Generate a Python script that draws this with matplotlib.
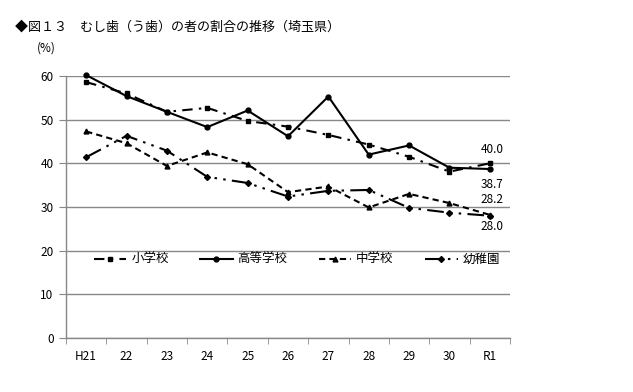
import matplotlib
matplotlib.use("Agg")
import matplotlib.pyplot as plt
import numpy as np

plt.rcParams['font.family'] = ['Noto Sans CJK JP', 'DejaVu Sans']

years = ["H21", "22", "23", "24", "25", "26", "27", "28", "29", "30", "R1"]
shogakko = [58.6, 56.0, 51.8, 52.7, 49.7, 48.4, 46.5, 44.3, 41.5, 38.1, 40.0]
kotogakko = [60.2, 55.4, 51.8, 48.3, 52.1, 46.2, 55.3, 42.0, 44.1, 39.0, 38.7]
chugakko = [47.3, 44.6, 39.4, 42.5, 39.8, 33.4, 34.7, 29.9, 33.0, 30.9, 28.2]
yochien = [41.4, 46.3, 42.9, 36.9, 35.5, 32.4, 33.7, 33.9, 29.8, 28.7, 28.0]
series_names = ["小学校", "高等学校", "中学校", "幼稚園"]
title = "◆図１３　むし歯（う歯）の者の割合の推移（埼玉県）"

fig = plt.figure(figsize=(6.33, 3.92), dpi=100)
ax = fig.add_axes([66/633, 1-338/392, (510-66)/633, (338-76)/392])

x = np.arange(len(years))
ax.plot(x, shogakko, color='black', lw=1.5, marker='s', ms=3.5,
        dashes=(5, 3, 1.2, 3), label=series_names[0], clip_on=False)
ax.plot(x, kotogakko, color='black', lw=1.5, marker='o', ms=3.5,
        label=series_names[1], clip_on=False)
ax.plot(x, chugakko, color='black', lw=1.5, marker='^', ms=3.5,
        dashes=(3, 2), label=series_names[2], clip_on=False)
ax.plot(x, yochien, color='black', lw=1.5, marker='D', ms=3,
        dashes=(8, 3, 1.2, 3, 1.2, 3), label=series_names[3], clip_on=False)

ax.set_xlim(-0.5, len(years) - 0.5)
ax.set_ylim(0, 60)
ax.set_yticks(np.arange(0, 61, 10))
ax.set_xticks(x)
ax.set_xticklabels(years, fontsize=8.5)
ax.set_xticks(np.arange(-0.5, len(years), 1), minor=True)
ax.tick_params(axis='x', which='major', length=0, pad=9)
ax.tick_params(axis='x', which='minor', length=4, color='#888888', direction='out')
ax.tick_params(axis='y', length=5, color='#888888', labelsize=8.5, pad=4)
ax.grid(axis='y', color='#888888', lw=1)
ax.set_axisbelow(True)
for s in ['top', 'right']:
    ax.spines[s].set_visible(False)
for s in ['left', 'bottom']:
    ax.spines[s].set_color('#888888')
    ax.spines[s].set_linewidth(1)

# data labels
last = len(years) - 1
ax.annotate(f"{shogakko[-1]:.1f}", (last, shogakko[-1]), xytext=(2, 14),
            textcoords='offset pixels', ha='center', va='center', fontsize=8.5)
ax.annotate(f"{kotogakko[-1]:.1f}", (last, kotogakko[-1]), xytext=(2, -15),
            textcoords='offset pixels', ha='center', va='center', fontsize=8.5)
ax.annotate(f"{chugakko[-1]:.1f}", (last, chugakko[-1]), xytext=(2, 15),
            textcoords='offset pixels', ha='center', va='center', fontsize=8.5)
ax.annotate(f"{yochien[-1]:.1f}", (last, yochien[-1]), xytext=(2, -11),
            textcoords='offset pixels', ha='center', va='center', fontsize=8.5)

leg = ax.legend(loc='center', bbox_to_anchor=(0.52, 0.3), ncol=4, frameon=False,
                fontsize=9, handlelength=2.6, columnspacing=2.5, handletextpad=0.4)

fig.text(15/633, 1-27/392, title, fontsize=9.4, va='center', ha='left')
fig.text(46/633, 1-48/392, "(%)", fontsize=8.5, va='center', ha='center')

fig.savefig("out.png", dpi=100)
